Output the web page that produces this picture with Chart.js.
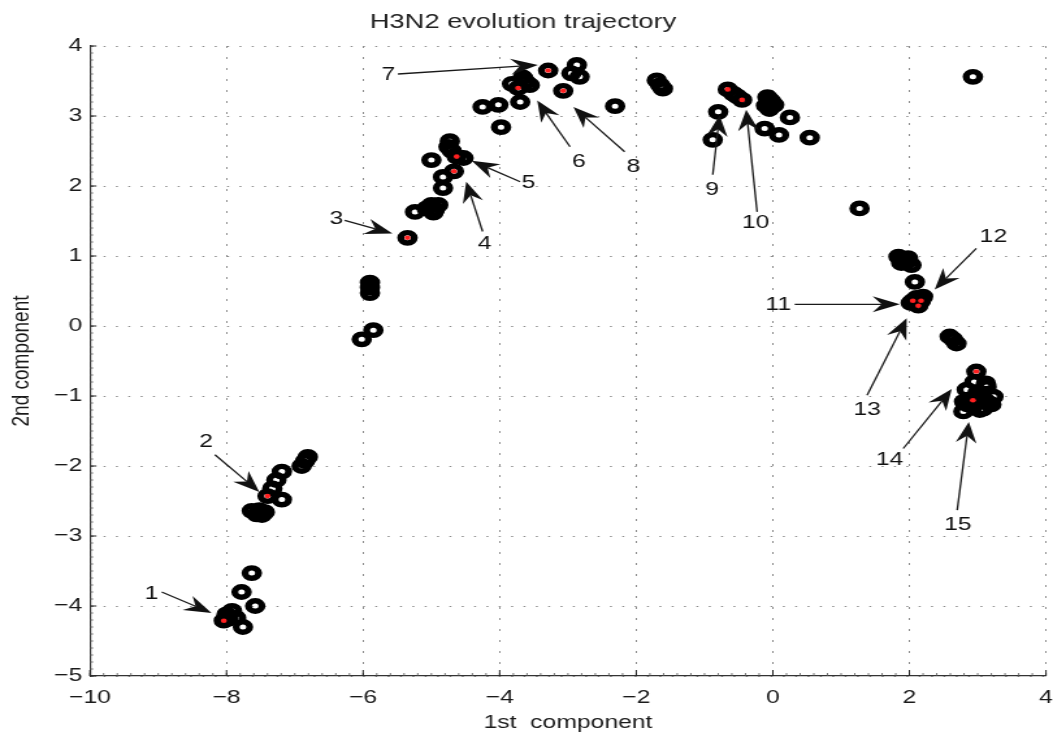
<!DOCTYPE html>
<html><head><meta charset="utf-8">
<script src="https://cdn.jsdelivr.net/npm/chart.js@4.4.1/dist/chart.umd.min.js"></script>
<style>
html,body{margin:0;padding:0;background:#fff;overflow:hidden}
#wrap{position:absolute;left:0;top:0;width:810px;height:737px;transform:scaleX(1.3);transform-origin:0 0}
</style></head><body>
<div id="wrap"><canvas id="c"></canvas></div>
<script>
const chartTitle = 'H3N2 evolution trajectory';
const xAxisTitle = '1st  component';
const yAxisTitle = '2nd component';
const xTickValues = [-10, -8, -6, -4, -2, 0, 2, 4];
const yTickValues = [-5, -4, -3, -2, -1, 0, 1, 2, 3, 4];

const circleX = [
  -8.04, -8.00, -7.92, -7.86, -7.97, -7.63, -7.78, -7.58, -7.76,
  -7.40, -6.81, -6.85, -6.90, -7.19, -7.27, -7.33, -7.19, -7.63, -7.56, -7.48, -7.52, -7.44,
  -5.90, -5.90, -5.90, -5.85, -6.02,
  -5.35, -5.24, -5.07, -4.97, -4.90, -5.00, -4.95, -4.83, -4.83, -4.67, -4.63, -5.00, -4.53, -4.73, -4.75, -4.70,
  -4.25, -4.02, -3.98, -3.70, -3.73, -3.82, -3.56, -3.66, -3.62, -3.29, -3.07, -2.87, -2.95, -2.83, -2.31, -1.70, -1.65, -1.61,
  -0.66, -0.58, -0.52, -0.45, -0.88, -0.80, -0.08, -0.03, -0.10, 0.02, -0.05, 0.25, -0.12, 0.09, 0.54,
  2.93, 1.27,
  1.84, 1.90, 1.96, 2.03, 1.88, 1.98, 2.08, 2.05, 2.17, 2.13, 2.10, 2.02, 2.20,
  2.59, 2.64, 2.69, 2.98, 2.84, 3.13, 3.23, 3.05, 2.93, 3.03, 2.79, 2.93, 3.15, 2.88,
  2.95, 3.00, 3.10, 2.85, 3.12, 3.20, 2.80, 3.08
];
const circleY = [
  -4.21, -4.12, -4.07, -4.17, -4.18, -3.53, -3.80, -4.00, -4.30,
  -2.43, -1.87, -1.93, -2.00, -2.08, -2.20, -2.32, -2.48, -2.64, -2.69, -2.70, -2.63, -2.66,
  0.62, 0.55, 0.47, -0.06, -0.19,
  1.26, 1.63, 1.68, 1.62, 1.73, 1.73, 1.66, 1.97, 2.13, 2.21, 2.42, 2.37, 2.40, 2.64, 2.56, 2.50,
  3.13, 3.16, 2.84, 3.20, 3.40, 3.46, 3.44, 3.55, 3.49, 3.65, 3.36, 3.73, 3.61, 3.56, 3.14, 3.51, 3.44, 3.39,
  3.38, 3.32, 3.28, 3.23, 2.66, 3.06, 3.27, 3.22, 3.15, 3.16, 3.10, 2.98, 2.82, 2.73, 2.69,
  3.56, 1.68,
  0.99, 0.95, 0.92, 0.87, 0.90, 0.97, 0.63, 0.36, 0.36, 0.29, 0.40, 0.33, 0.42,
  -0.15, -0.19, -0.25, -0.65, -0.91, -0.87, -1.01, -1.00, -1.06, -1.20, -1.22, -1.15, -1.10, -1.05,
  -0.80, -0.95, -1.05, -1.12, -0.82, -1.12, -1.08, -1.18
];

const redX = [-8.04, -7.40, -5.35, -4.67, -4.63, -3.73, -3.29, -3.07, -0.66, -0.45, 2.05, 2.17, 2.13, 2.98, 2.93];
const redY = [-4.21, -2.43, 1.26, 2.21, 2.42, 3.40, 3.65, 3.36, 3.38, 3.23, 0.36, 0.36, 0.29, -0.65, -1.06];

const arrowText   = ['1', '2', '3', '4', '5', '6', '7', '8', '9', '10', '11', '12', '13', '14', '15'];
const arrowLabelX = [-9.10, -8.30, -6.39, -4.22, -3.58, -2.84, -5.63, -2.04, -0.89, -0.25, 0.08, 3.23, 1.38, 1.71, 2.71];
const arrowLabelY = [-3.82, -1.65, 1.53, 1.17, 2.04, 2.35, 3.59, 2.28, 1.94, 1.47, 0.31, 1.28, -1.20, -1.91, -2.84];
const arrowTailX  = [-8.95, -8.17, -6.27, -4.25, -3.70, -2.97, -5.49, -2.17, -0.88, -0.23, 0.32, 2.98, 1.38, 1.91, 2.70];
const arrowTailY  = [-3.80, -1.84, 1.51, 1.35, 2.06, 2.56, 3.60, 2.49, 2.16, 1.63, 0.31, 1.11, -0.99, -1.75, -2.63];
const arrowTipX   = [-8.22, -7.52, -5.57, -4.49, -4.41, -3.45, -3.44, -2.92, -0.78, -0.39, 1.86, 2.37, 1.96, 2.62, 2.87];
const arrowTipY   = [-4.10, -2.37, 1.32, 2.06, 2.36, 3.22, 3.73, 3.13, 3.01, 3.09, 0.31, 0.52, 0.11, -0.90, -1.37];

const FONT = "'Liberation Sans', Arial, Helvetica, sans-serif";
Chart.defaults.font.family = FONT;
Chart.defaults.color = '#1a1a1a';

const fmt = v => (v < 0 ? '\u2212' + Math.abs(v) : String(v));

const axisDecor = {
  id: 'axisDecor',
  beforeDatasetsDraw(chart) {
    const {ctx, chartArea: a, scales: {x, y}} = chart;
    ctx.save();
    ctx.strokeStyle = '#555';
    ctx.lineWidth = 0.8;
    ctx.beginPath();
    for (let k = 0; k <= 90; k++) {
      const py = y.getPixelForValue(-5 + k * 0.1);
      ctx.moveTo(a.left, py); ctx.lineTo(a.left + 2.5, py);
    }
    for (let k = 0; k <= 70; k++) {
      const px = x.getPixelForValue(-10 + k * 0.2);
      ctx.moveTo(px, a.bottom); ctx.lineTo(px, a.bottom - 3);
    }
    ctx.stroke();
    ctx.strokeStyle = '#222';
    ctx.lineWidth = 1;
    ctx.beginPath();
    xTickValues.forEach(v => { const px = x.getPixelForValue(v); ctx.moveTo(px, a.bottom); ctx.lineTo(px, a.bottom - 6); });
    yTickValues.forEach(v => { const py = y.getPixelForValue(v); ctx.moveTo(a.left, py); ctx.lineTo(a.left + 5, py); });
    ctx.stroke();
    ctx.restore();
  }
};

const arrowsPlugin = {
  id: 'arrows',
  afterDatasetsDraw(chart) {
    const {ctx, scales: {x, y}} = chart;
    ctx.save();
    ctx.strokeStyle = '#1a1a1a';
    ctx.fillStyle = '#111';
    ctx.lineWidth = 1.3;
    const L = 21, W = 8, N = 7;
    for (let i = 0; i < arrowText.length; i++) {
      const sx = x.getPixelForValue(arrowTailX[i]), sy = y.getPixelForValue(arrowTailY[i]);
      const tx = x.getPixelForValue(arrowTipX[i]), ty = y.getPixelForValue(arrowTipY[i]);
      const ang = Math.atan2(ty - sy, tx - sx);
      const ux = Math.cos(ang), uy = Math.sin(ang);
      const nx = -uy, ny = ux;
      ctx.beginPath();
      ctx.moveTo(sx, sy);
      ctx.lineTo(tx - (L - N) * ux, ty - (L - N) * uy);
      ctx.stroke();
      ctx.beginPath();
      ctx.moveTo(tx, ty);
      ctx.lineTo(tx - L * ux + W * nx, ty - L * uy + W * ny);
      ctx.lineTo(tx - (L - N) * ux, ty - (L - N) * uy);
      ctx.lineTo(tx - L * ux - W * nx, ty - L * uy - W * ny);
      ctx.closePath();
      ctx.fill();
      ctx.font = '19px ' + FONT;
      ctx.textAlign = 'center';
      ctx.textBaseline = 'middle';
      ctx.fillText(arrowText[i], x.getPixelForValue(arrowLabelX[i]), y.getPixelForValue(arrowLabelY[i]));
    }
    ctx.restore();
  }
};

new Chart(document.getElementById('c'), {
  type: 'scatter',
  data: {
    datasets: [
      {
        label: 'strains',
        data: circleX.map((v, i) => ({x: v, y: circleY[i]})),
        pointStyle: 'circle',
        pointRadius: 5.2,
        pointBorderWidth: 5.4,
        borderColor: '#000',
        backgroundColor: 'rgba(0,0,0,0)',
        order: 2
      },
      {
        label: 'marked',
        data: redX.map((v, i) => ({x: v, y: redY[i]})),
        pointStyle: 'circle',
        pointRadius: 2.3,
        pointBorderWidth: 0,
        borderColor: '#ff2020',
        backgroundColor: '#ff2020',
        order: 1
      }
    ]
  },
  options: {
    responsive: true,
    maintainAspectRatio: false,
    animation: false,
    events: [],
    layout: {autoPadding: false, padding: {left: 0, right: 5.4, top: 0, bottom: 0}},
    plugins: {
      legend: {display: false},
      tooltip: {enabled: false},
      title: {
        display: true, text: chartTitle, color: '#222',
        font: {size: 21, weight: 'normal'},
        padding: {top: 10, bottom: 10.8}
      }
    },
    scales: {
      x: {
        type: 'linear', min: -10, max: 4,
        afterBuildTicks: s => { s.ticks = xTickValues.map(v => ({value: v})); },
        afterFit: s => { s.height = 61; s.paddingRight = 0; s.paddingLeft = 0; },
        ticks: {font: {size: 19}, color: '#1a1a1a', padding: 10, callback: fmt, maxRotation: 0, autoSkip: false},
        grid: {color: '#8c8c8c', lineWidth: 1, drawTicks: false},
        border: {display: true, color: '#333', width: 1.2, dash: [2, 9]},
        title: {display: true, text: xAxisTitle, color: '#1a1a1a', font: {size: 19}, padding: {top: 0, bottom: 3}}
      },
      y: {
        type: 'linear', min: -5, max: 4,
        afterBuildTicks: s => { s.ticks = yTickValues.map(v => ({value: v})); },
        afterFit: s => { s.width = 69.2; s.paddingTop = 0; s.paddingBottom = 0; },
        ticks: {font: {size: 19}, color: '#1a1a1a', padding: 6, callback: fmt, autoSkip: false},
        grid: {color: '#8c8c8c', lineWidth: 1, drawTicks: false},
        border: {display: true, color: '#333', width: 1.2, dash: [1.5, 8]},
        title: {display: true, text: yAxisTitle, color: '#1a1a1a', font: {size: 19}, padding: {top: 5.5, bottom: 0}}
      }
    }
  },
  plugins: [axisDecor, arrowsPlugin]
});
</script>
</body></html>
